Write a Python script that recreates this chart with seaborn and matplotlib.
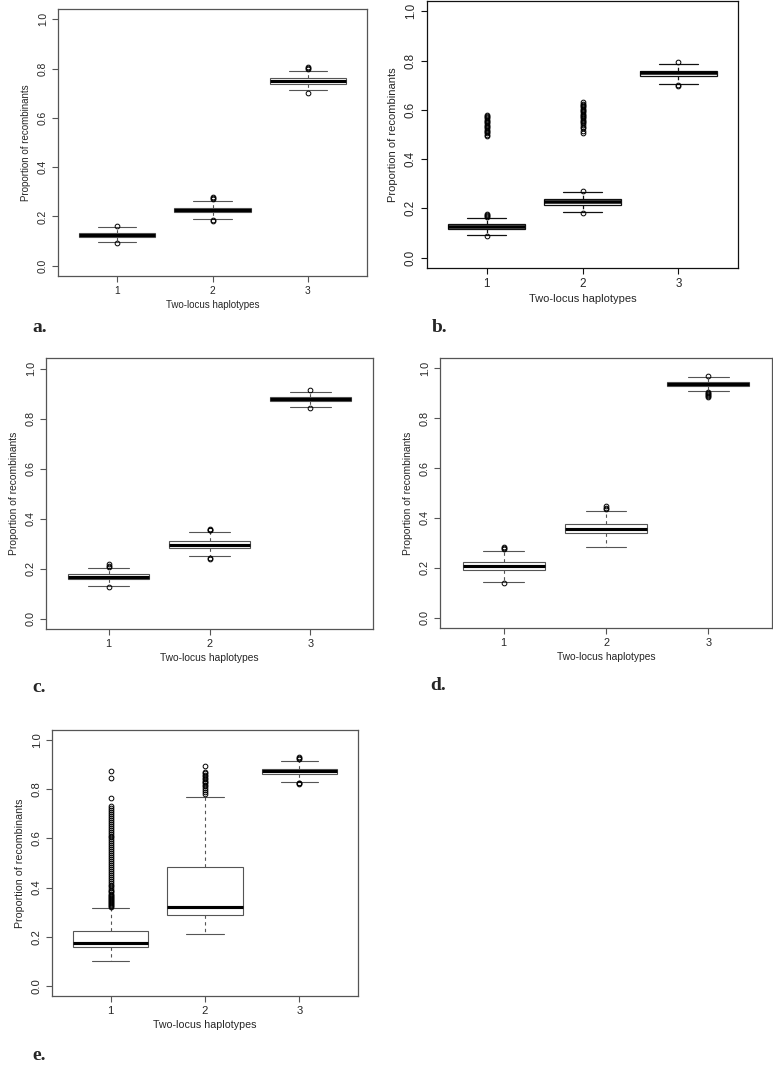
import pandas as pd
import matplotlib
matplotlib.use('Agg')
import matplotlib.pyplot as plt
import seaborn as sns

groups = ['1', '2', '3']

# Panel a: box statistics (one entry per haplotype)
a_q1 = [0.116, 0.216, 0.738]
a_med = [0.124, 0.227, 0.750]
a_q3 = [0.133, 0.236, 0.761]
a_wlo = [0.097, 0.188, 0.713]
a_whi = [0.156, 0.263, 0.792]
a_out = [[0.090, 0.160],
         [0.182, 0.184, 0.270, 0.274, 0.278],
         [0.702, 0.798, 0.802, 0.805]]

# Panel b
b_q1 = [0.117, 0.2154, 0.736]
b_med = [0.126, 0.226, 0.749]
b_q3 = [0.135, 0.2366, 0.759]
b_wlo = [0.094, 0.186, 0.707]
b_whi = [0.160, 0.266, 0.788]
b_out = [[0.088, 0.165, 0.170, 0.175, 0.178,
          0.492, 0.500, 0.505, 0.510, 0.515, 0.520, 0.525, 0.530, 0.535,
          0.540, 0.545, 0.550, 0.555, 0.560, 0.565, 0.570, 0.575, 0.580],
         [0.182, 0.271,
          0.507, 0.515, 0.525, 0.530, 0.540, 0.545, 0.550, 0.555, 0.560,
          0.565, 0.570, 0.575, 0.580, 0.585, 0.590, 0.595, 0.600, 0.605,
          0.610, 0.615, 0.620, 0.625, 0.630],
         [0.698, 0.700, 0.796]]

# Panel c
c_q1 = [0.1582, 0.284, 0.8694]
c_med = [0.167, 0.296, 0.878]
c_q3 = [0.1773, 0.311, 0.8856]
c_wlo = [0.131, 0.250, 0.848]
c_whi = [0.204, 0.345, 0.907]
c_out = [[0.127, 0.208, 0.212, 0.218],
         [0.238, 0.242, 0.353, 0.356, 0.359],
         [0.841, 0.913]]

# Panel d
d_q1 = [0.1894, 0.338, 0.9309]
d_med = [0.207, 0.357, 0.938]
d_q3 = [0.2216, 0.376, 0.9461]
d_wlo = [0.144, 0.284, 0.910]
d_whi = [0.267, 0.428, 0.967]
d_out = [[0.137, 0.275, 0.280, 0.285],
         [0.436, 0.441, 0.448],
         [0.886, 0.890, 0.894, 0.898, 0.902, 0.905, 0.971]]

# Panel e
e_q1 = [0.157, 0.287, 0.8627]
e_med = [0.176, 0.3225, 0.875]
e_q3 = [0.221, 0.482, 0.8848]
e_wlo = [0.102, 0.209, 0.831]
e_whi = [0.315, 0.768, 0.916]
e_out = [[0.320, 0.324, 0.328, 0.332, 0.336, 0.340, 0.344, 0.348, 0.352,
          0.356, 0.360, 0.365, 0.370, 0.375, 0.380, 0.386, 0.392, 0.398,
          0.405, 0.412, 0.420, 0.428, 0.436, 0.444, 0.452, 0.460, 0.468,
          0.476, 0.484, 0.492, 0.500, 0.508, 0.516, 0.524, 0.532, 0.540,
          0.548, 0.556, 0.564, 0.572, 0.580, 0.588, 0.596, 0.604, 0.612,
          0.620, 0.628, 0.636, 0.644, 0.652, 0.660, 0.668, 0.676, 0.684,
          0.692, 0.700, 0.708, 0.716, 0.724, 0.732, 0.766, 0.845, 0.874],
         [0.782, 0.790, 0.798, 0.806, 0.812, 0.818, 0.824, 0.830, 0.836,
          0.842, 0.848, 0.854, 0.860, 0.866, 0.872, 0.894],
         [0.821, 0.824, 0.827, 0.922, 0.928, 0.932]]

yticks = [0.0, 0.2, 0.4, 0.6, 0.8, 1.0]


def to_frame(q1, med, q3, wlo, whi, out, k=500):
    # rebuild a sample whose quartiles / whiskers / outliers match the summary
    rows = []
    for g, a, m, b, lo, hi, o in zip(groups, q1, med, q3, wlo, whi, out):
        vals = [lo, hi] + [a] * k + [m] * k + [b] * k + list(o)
        rows += [(g, v) for v in vals]
    return pd.DataFrame(rows, columns=['haplotype', 'proportion'])


W, H = 773, 1068
sns.set_style('white')
plt.rcParams['font.family'] = ['Liberation Sans', 'DejaVu Sans']

fig = plt.figure(figsize=(W / 100, H / 100), dpi=100)


def box_panel(rect, df, lc, lw, fs, tag, tag_xy):
    l, t, r, b = rect
    ax = fig.add_axes([l / W, 1 - b / H, (r - l) / W, (b - t) / H])
    sns.boxplot(data=df, x='haplotype', y='proportion', order=groups, ax=ax,
                width=0.8, color='white', linecolor=lc, linewidth=lw,
                fliersize=3.4,
                whiskerprops=dict(linestyle=(0, (3, 3))),
                medianprops=dict(color='black', linewidth=lw * 2.8),
                flierprops=dict(marker='o', markerfacecolor='none',
                                markeredgecolor='black', markeredgewidth=0.7))
    ax.set_xlim(-0.62, 2.62)
    ax.set_ylim(-0.042, 1.042)
    ax.set_yticks(yticks)
    ax.set_yticklabels([f'{v:.1f}' for v in yticks], rotation=90, va='center')
    ax.set_xlabel('Two-locus haplotypes', fontsize=fs, labelpad=2.5)
    ax.set_ylabel('Proportion of recombinants', fontsize=fs, labelpad=5)
    ax.tick_params(direction='out', length=4.3, width=0.8, color=lc,
                   labelsize=fs + 0.4, pad=3, left=True, bottom=True)
    for s in ax.spines.values():
        s.set_visible(True)
        s.set_color(lc)
        s.set_linewidth(0.9)
    fig.text(tag_xy[0] / W, 1 - tag_xy[1] / H, tag, ha='left', va='center',
             family='Liberation Serif', weight='bold', fontsize=14)
    return ax


box_panel((58, 9, 367, 276), to_frame(a_q1, a_med, a_q3, a_wlo, a_whi, a_out),
          '#555555', 0.8, 7.0, 'a.', (32, 328))
box_panel((427, 1, 738, 268), to_frame(b_q1, b_med, b_q3, b_wlo, b_whi, b_out),
          '#111111', 0.9, 8.0, 'b.', (432, 328))
box_panel((46, 358, 373, 629), to_frame(c_q1, c_med, c_q3, c_wlo, c_whi, c_out),
          '#555555', 0.8, 7.4, 'c.', (32, 687))
box_panel((440, 358, 772, 628), to_frame(d_q1, d_med, d_q3, d_wlo, d_whi, d_out),
          '#555555', 0.8, 7.4, 'd.', (430, 686))
box_panel((52, 730, 358, 996), to_frame(e_q1, e_med, e_q3, e_wlo, e_whi, e_out),
          '#555555', 0.8, 7.7, 'e.', (32, 1055))

fig.savefig('out.png', dpi=100)
